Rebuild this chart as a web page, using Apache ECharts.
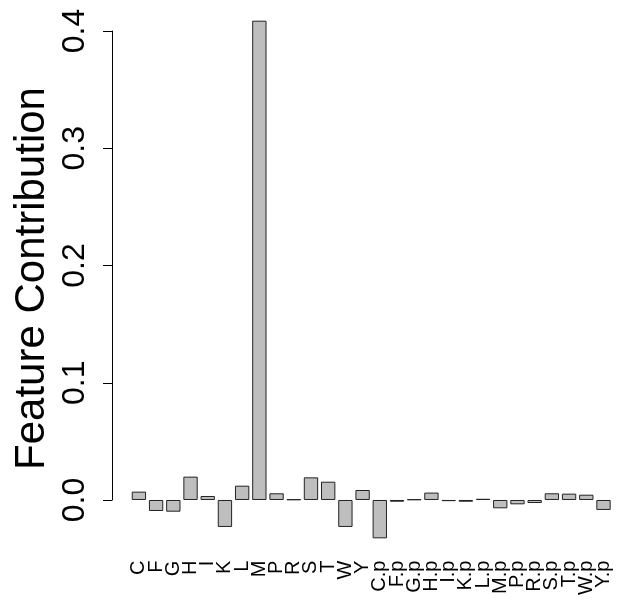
<!DOCTYPE html>
<html>
<head>
<meta charset="utf-8">
<script src="https://cdn.jsdelivr.net/npm/echarts@6/dist/echarts.min.js"></script>
<style>
html,body{margin:0;padding:0;background:#fff;}
#chart{width:617px;height:600px;}
</style>
</head>
<body>
<div id="chart"></div>
<script>
const categories = ['C','F','G','H','I','K','L','M','P','R','S','T','W','Y',
  'C.p','F.p','G.p','H.p','I.p','K.p','L.p','M.p','P.p','R.p','S.p','T.p','W.p','Y.p'];
const contributions = [0.0071,-0.0094,-0.010,0.0199,0.0034,-0.023,0.0122,0.4088,0.0057,0.0005,0.0193,0.0156,-0.023,0.0085,
  -0.0327,-0.0015,0.0005,0.0063,-0.001,-0.0015,0.001,-0.0071,-0.0037,-0.0026,0.0057,0.0054,0.0045,-0.0085];
const yTicks = [0, 0.1, 0.2, 0.3, 0.4];
const yTitle = 'Feature Contribution';

const FONT = 'Liberation Sans, Arial, Helvetica, sans-serif';
const chart = echarts.init(document.getElementById('chart'));
chart.setOption({
  animation: false,
  backgroundColor: '#ffffff',
  grid: [
    {left: 130.3, right: 4.9, top: 7.55, bottom: 41.4},
    {left: 112, width: 10, top: 31, bottom: 100}
  ],
  xAxis: [
    {
      type: 'category', gridIndex: 0, data: categories,
      boundaryGap: true,
      axisLine: {show: false, onZero: false},
      axisTick: {show: false},
      axisLabel: {rotate: 90, interval: 0, fontSize: 20, color: '#000', fontFamily: FONT, margin: 2}
    },
    {type: 'value', gridIndex: 1, show: false, min: 0, max: 1}
  ],
  yAxis: [
    {type: 'value', gridIndex: 0, min: -0.05, max: 0.42, show: false},
    {
      type: 'value', gridIndex: 1, min: yTicks[0], max: yTicks[yTicks.length - 1], interval: 0.1,
      axisLine: {show: true, lineStyle: {color: '#000', width: 1}},
      axisTick: {show: true, length: 9, lineStyle: {color: '#000', width: 1}},
      splitLine: {show: false},
      axisLabel: {
        rotate: 90, fontSize: 32, color: '#000', fontFamily: FONT, margin: 21,
        formatter: v => v.toFixed(1)
      }
    }
  ],
  graphic: [{
    type: 'text',
    x: 32, y: 278.5,
    rotation: Math.PI / 2,
    style: {text: yTitle, font: '42px ' + FONT, fill: '#000', align: 'center', verticalAlign: 'middle'}
  }],
  series: [{
    type: 'bar', xAxisIndex: 0, yAxisIndex: 0,
    data: contributions,
    barCategoryGap: '16.7%',
    itemStyle: {color: '#bebebe', borderColor: '#222', borderWidth: 1}
  }]
});
</script>
</body>
</html>
